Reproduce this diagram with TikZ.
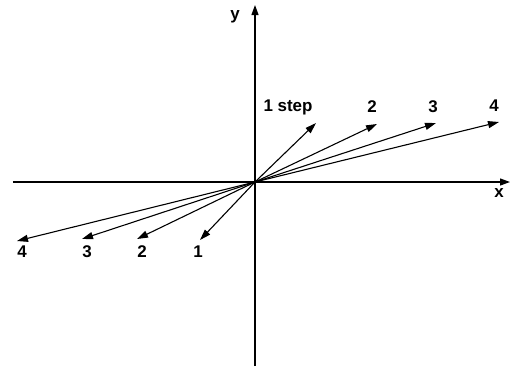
\documentclass[tikz,border=0pt]{standalone}
\usepackage{fontspec}
\setmainfont{Liberation Sans}
\usepackage{tikz}
\usetikzlibrary{arrows.meta}

\begin{document}
\begin{tikzpicture}[x=1bp,y=1bp,
  axis/.style={line width=1.2pt,-{Triangle[length=10bp,width=7bp]}},
  vec/.style={line width=1.1pt,-{Triangle[length=11bp,width=7bp]}},
  lbl/.style={font=\fontsize{17}{19}\selectfont\bfseries,inner sep=0pt}]
  \useasboundingbox (-255,-184) rectangle (255,182);
  \coordinate (O) at (0,0);
  % axes
  \coordinate (xs) at (-242,0);
  \coordinate (xe) at (255,0);
  \coordinate (ys) at (0,-184);
  \coordinate (ye) at (0,177);
  \draw[axis] (xs) -- (xe);
  \draw[axis] (ys) -- (ye);
  \node[lbl] (xlab) at (244,-11) {x};
  \node[lbl] (ylab) at (-20,165) {y};
  % steps to the upper right
  \coordinate (u1) at (61,59);
  \coordinate (u2) at (122,58);
  \coordinate (u3) at (181,59);
  \coordinate (u4) at (244,60);
  \draw[vec] (O) -- (u1);
  \draw[vec] (O) -- (u2);
  \draw[vec] (O) -- (u3);
  \draw[vec] (O) -- (u4);
  \node[lbl] (ul1) at (33,75) {1 step};
  \node[lbl] (ul2) at (117,75) {2};
  \node[lbl] (ul3) at (178,75) {3};
  \node[lbl] (ul4) at (239,76) {4};
  % steps to the lower left
  \coordinate (d1) at (-55,-58);
  \coordinate (d2) at (-118,-57);
  \coordinate (d3) at (-173,-57);
  \coordinate (d4) at (-238,-59);
  \draw[vec] (O) -- (d1);
  \draw[vec] (O) -- (d2);
  \draw[vec] (O) -- (d3);
  \draw[vec] (O) -- (d4);
  \node[lbl] (dl1) at (-57,-70) {1};
  \node[lbl] (dl2) at (-113,-70) {2};
  \node[lbl] (dl3) at (-168,-70) {3};
  \node[lbl] (dl4) at (-233,-70) {4};
\end{tikzpicture}
\end{document}
